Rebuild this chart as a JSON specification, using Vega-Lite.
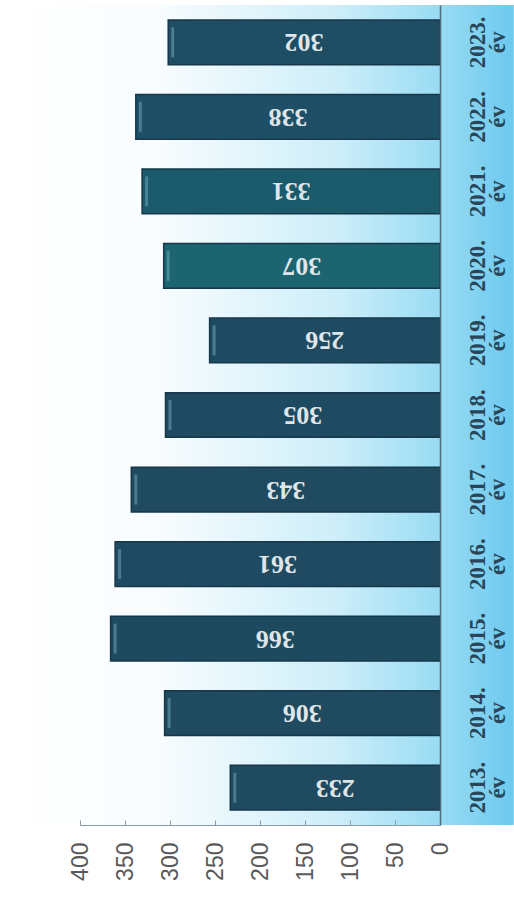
{
  "$schema": "https://vega.github.io/schema/vega-lite/v6.json",
  "width": 360,
  "height": 820,
  "autosize": {"type": "none"},
  "padding": {"left": 80, "top": 5, "right": 74, "bottom": 75},
  "background": "white",
  "config": {"view": {"stroke": null}},
  "data": {"values": [
    {"year": "2013", "value": 233},
    {"year": "2014", "value": 306},
    {"year": "2015", "value": 366},
    {"year": "2016", "value": 361},
    {"year": "2017", "value": 343},
    {"year": "2018", "value": 305},
    {"year": "2019", "value": 256},
    {"year": "2020", "value": 307},
    {"year": "2021", "value": 331},
    {"year": "2022", "value": 338},
    {"year": "2023", "value": 302}
  ]},
  "encoding": {
    "y": {
      "field": "year",
      "type": "ordinal",
      "sort": "descending",
      "scale": {"paddingInner": 0.4, "paddingOuter": 0.2},
      "axis": {
        "orient": "right",
        "title": null,
        "ticks": false,
        "zindex": 1,
        "labelExpr": "[datum.label + '.', 'év']",
        "labelAngle": 270,
        "labelAlign": "center",
        "labelBaseline": "top",
        "labelFont": "Liberation Serif",
        "labelFontWeight": "bold",
        "labelFontSize": 23,
        "labelLineHeight": 20,
        "labelColor": "#2b4558",
        "labelPadding": 26,
        "domainColor": "#4f6a7c",
        "domainWidth": 1.5
      }
    }
  },
  "layer": [
    {
      "data": {"values": [{"a": 1}]},
      "mark": {
        "type": "rect",
        "fill": {
          "gradient": "linear",
          "x1": 0, "y1": 0, "x2": 1, "y2": 0,
          "stops": [
            {"offset": 0, "color": "#ffffff"},
            {"offset": 0.3, "color": "#f8fcfe"},
            {"offset": 0.65, "color": "#cdeef9"},
            {"offset": 0.85, "color": "#9adcf4"},
            {"offset": 1, "color": "#6cc9ee"}
          ]
        }
      },
      "encoding": {
        "y": null,
        "x": {"datum": 480, "type": "quantitative", "scale": {"domain": [0, 400], "reverse": true, "nice": false}, "axis": null},
        "x2": {"datum": -82}
      }
    },
    {
      "mark": {"type": "bar", "stroke": "#17374a", "strokeWidth": 1.5},
      "encoding": {
        "x": {
          "field": "value",
          "type": "quantitative",
          "scale": {"domain": [0, 400], "reverse": true, "nice": false},
          "axis": {
            "orient": "bottom",
            "title": null,
            "zindex": 1,
            "values": [0, 50, 100, 150, 200, 250, 300, 350, 400],
            "grid": false,
            "labelAngle": 270,
            "labelAlign": "right",
            "labelBaseline": "middle",
            "labelFont": "Liberation Sans",
            "labelFontSize": 23,
            "labelColor": "#5a5a5a",
            "labelPadding": 22,
            "tickSize": -5,
            "tickColor": "#8a9aa8",
            "domainColor": "#8a9aa8",
            "labelOverlap": false
          }
        },
        "color": {
          "field": "year",
          "type": "nominal",
          "legend": null,
          "scale": {
            "domain": ["2013", "2014", "2015", "2016", "2017", "2018", "2019", "2020", "2021", "2022", "2023"],
            "range": ["#1f4a60", "#1f4a60", "#1e4a60", "#1f4a62", "#1f4a60", "#1f4b62", "#1f4b62", "#1b6470", "#1b5a6b", "#1f4f66", "#1f4d64"]
          }
        }
      }
    },
    {
      "mark": {"type": "tick", "color": "#7fb5cc", "thickness": 3, "size": 30, "opacity": 0.45},
      "encoding": {
        "x": {"field": "value", "type": "quantitative", "scale": {"domain": [5, 405], "reverse": true, "nice": false, "zero": false}, "axis": null}
      }
    },
    {
      "mark": {"type": "text", "angle": 180, "font": "Liberation Serif", "fontWeight": "bold", "fontSize": 26, "color": "#dfe5e8", "align": "center", "baseline": "middle"},
      "encoding": {
        "x": {"field": "value", "type": "quantitative", "scale": {"domain": [0, 800], "reverse": true, "nice": false}, "axis": null},
        "text": {"field": "value", "type": "quantitative"}
      }
    }
  ],
  "resolve": {"scale": {"x": "independent", "color": "independent"}, "axis": {"x": "independent"}}
}
